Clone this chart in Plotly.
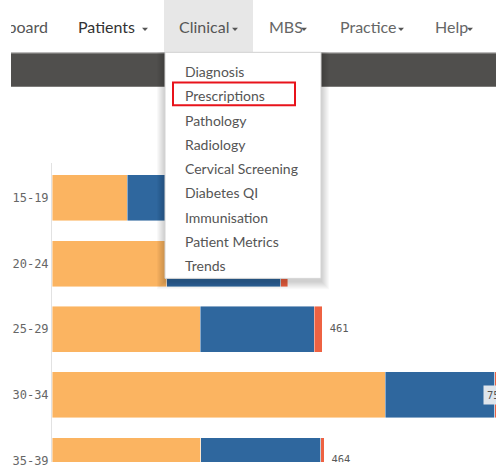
import plotly.graph_objects as go

W, H = 496, 468

# ---------------- data ----------------
age_groups = ["15-19", "20-24", "25-29", "30-34", "35-39"]
series_a = [128, 196, 253, 568, 254]   # orange
series_b = [105, 194, 194, 187, 204]   # blue
series_c = [6, 12, 14, 4, 6]           # red
x_max = 757

nav_items = ["Dashboard", "Patients", "Clinical", "MBS", "Practice", "Help"]
menu_items = ["Diagnosis", "Prescriptions", "Pathology", "Radiology",
              "Cervical Screening", "Diabetes QI", "Immunisation",
              "Patient Metrics", "Trends"]
selected_item = "Prescriptions"

totals = [a + b + c for a, b, c in zip(series_a, series_b, series_c)]

# ---------------- helpers (pixel -> paper) ----------------
def px(x):
    return x / W

def py(y):
    return 1 - y / H

ORANGE = "#fbb461"
BLUE = "#2f679e"
RED = "#ee6242"
MONO = "DejaVu Sans Mono"
SANS = "Lato"

fig = go.Figure()

bar_line = dict(width=0.8, color="rgba(255,255,255,0.55)")
for vals, col in [(series_a, ORANGE), (series_b, BLUE), (series_c, RED)]:
    fig.add_trace(go.Bar(
        y=age_groups, x=vals, orientation="h",
        marker=dict(color=col, line=bar_line),
        xaxis="x", yaxis="y", showlegend=False, hoverinfo="skip",
    ))

# outside total labels (those that fit)
fit_idx = [i for i, t in enumerate(totals) if t < x_max - 30]
fig.add_trace(go.Scatter(
    x=[totals[i] for i in fit_idx], y=[age_groups[i] for i in fit_idx],
    text=[str(totals[i]) for i in fit_idx], mode="markers+text",
    marker=dict(size=10, opacity=0),
    textposition="middle right",
    textfont=dict(family=MONO, size=10.5, color="#5a5a5a"),
    xaxis="x", yaxis="y", showlegend=False, hoverinfo="skip", cliponaxis=True,
))

# nav bar texts, clipped to the nav area
nav_x = [48, 78, 179, 269, 340, 435]
nav_pos = ["middle left"] + ["middle right"] * 5
nav_col = ["#555555", "#333333", "#555555", "#666666", "#666666", "#666666"]
fig.add_trace(go.Scatter(
    x=nav_x, y=[29.5] * len(nav_x), text=nav_items, mode="text",
    textposition=nav_pos,
    textfont=dict(family=SANS, size=16, color=nav_col),
    xaxis="x2", yaxis="y2", showlegend=False, hoverinfo="skip", cliponaxis=True,
))

top_px = 165
cat_px = 66.5
first_center = 200.5
top_val = -0.5 - ((first_center - top_px) - cat_px / 2) / cat_px
bot_val = top_val + (H - top_px) / cat_px

fig.update_layout(
    width=W, height=H,
    margin=dict(l=0, r=0, t=0, b=0),
    paper_bgcolor="white", plot_bgcolor="rgba(0,0,0,0)",
    barmode="stack", bargap=0.3,
    xaxis=dict(domain=[px(52), 1], range=[0, x_max], showgrid=False,
               zeroline=False, showticklabels=False, fixedrange=True),
    yaxis=dict(domain=[0, py(top_px)], range=[bot_val, top_val],
               showgrid=False, zeroline=False, showline=True,
               linecolor="#e2e2e2", linewidth=1, ticks="",
               tickfont=dict(family=MONO, size=12, color="#666666"),
               fixedrange=True),
    xaxis2=dict(domain=[px(11), 1], range=[11, W], visible=False,
                anchor="y2", fixedrange=True),
    yaxis2=dict(domain=[py(53), 1], range=[53, 0], visible=False,
                anchor="x2", fixedrange=True),
)

shapes = []
# navbar background pieces
shapes.append(dict(type="rect", xref="paper", yref="paper",
                   x0=px(164), x1=px(253), y0=py(53), y1=py(0),
                   fillcolor="#e7e7e7", line_width=0, layer="below"))
shapes.append(dict(type="rect", xref="paper", yref="paper",
                   x0=px(11), x1=1, y0=py(88), y1=py(53),
                   fillcolor="#504f4d", line_width=0, layer="below"))
shapes.append(dict(type="line", xref="paper", yref="paper",
                   x0=px(11), x1=1, y0=py(53.5), y1=py(53.5),
                   line=dict(color="#d8d8d8", width=1), layer="below"))
# carets
caret_x = [142, 232, 301, 398, 467]
for cx in caret_x:
    path = (f"M {px(cx)},{py(28)} L {px(cx + 6)},{py(28)} "
            f"L {px(cx + 3)},{py(31.5)} Z")
    shapes.append(dict(type="path", xref="paper", yref="paper", path=path,
                       fillcolor="#555555", line_width=0, layer="below"))

# dropdown shadow
dd_x0, dd_x1, dd_y0, dd_y1 = 165, 321, 53, 282
for s in range(1, 9):
    shapes.append(dict(type="rect", xref="paper", yref="paper",
                       x0=px(dd_x0 - s), x1=px(dd_x1 + s),
                       y0=py(dd_y1 + 3 + s), y1=py(dd_y0),
                       fillcolor="rgba(0,0,0,0.022)", line_width=0,
                       layer="above"))
shapes.append(dict(type="rect", xref="paper", yref="paper",
                   x0=px(dd_x0), x1=px(dd_x1), y0=py(dd_y1), y1=py(dd_y0),
                   fillcolor="white", line=dict(color="#d4d4d4", width=1),
                   layer="above"))

annotations = []
item_y0, item_step = 72.5, 24.6
for i, name in enumerate(menu_items):
    yc = item_y0 + i * item_step
    annotations.append(dict(xref="paper", yref="paper", x=px(183), y=py(yc),
                            text=name, showarrow=False, xanchor="left",
                            yanchor="middle",
                            font=dict(family=SANS, size=14, color="#555555")))
    if name == selected_item:
        shapes.append(dict(type="rect", xref="paper", yref="paper",
                           x0=px(173), x1=px(295),
                           y0=py(yc + 9.5), y1=py(yc - 13.5),
                           line=dict(color="#e8131b", width=2),
                           fillcolor="rgba(0,0,0,0)", layer="above"))

# inside label for bars that run past the plotted range
for i, t in enumerate(totals):
    if i not in fit_idx:
        annotations.append(dict(xref="paper", yref="y", x=px(483),
                                y=age_groups[i], text=str(t), showarrow=False,
                                xanchor="left", yanchor="middle",
                                bgcolor="#dfe5ec", borderpad=3,
                                font=dict(family=MONO, size=10.5,
                                          color="#555555")))

fig.update_layout(shapes=shapes, annotations=annotations)
fig.write_html(
    "out.html",
    config={"displayModeBar": False},
    post_script="document.body.style.margin='0';"
                "document.body.style.overflow='hidden';",
)
